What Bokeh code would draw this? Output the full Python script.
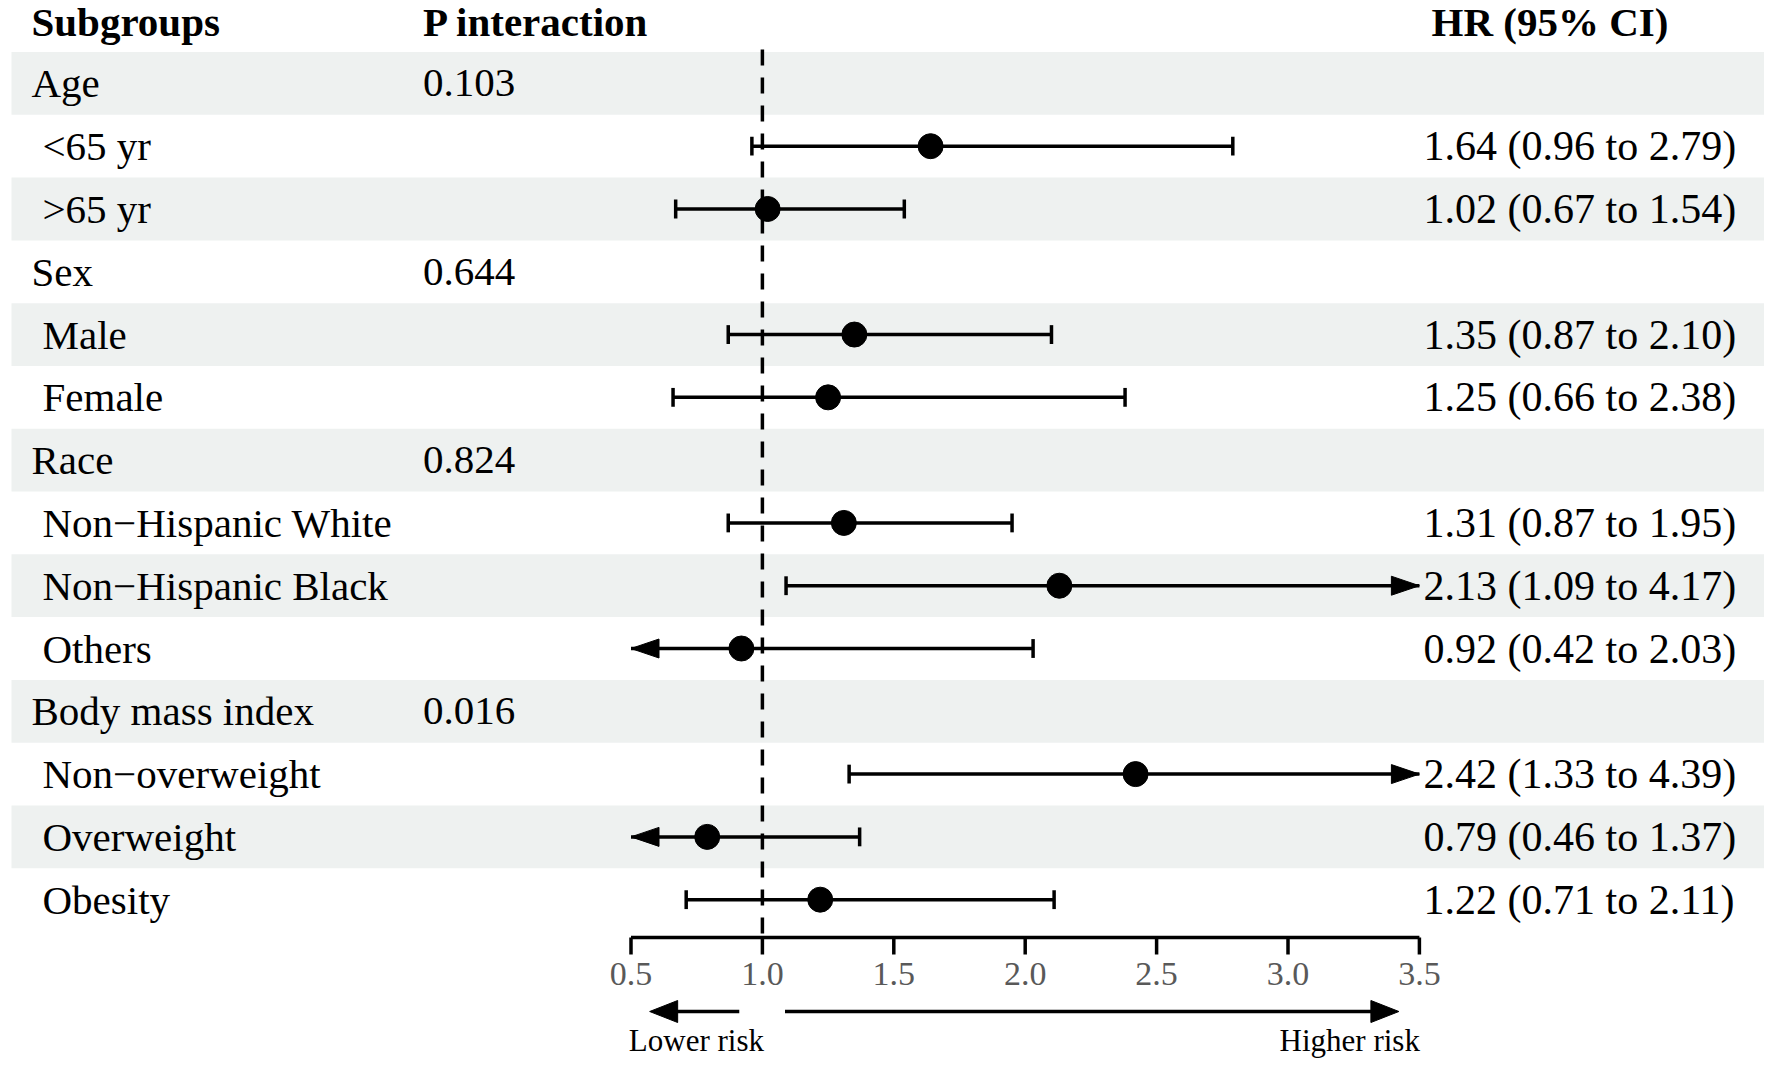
from bokeh.plotting import figure
from bokeh.models import Range1d
from bokeh.core.properties import value
from bokeh.embed import file_html
from bokeh.resources import INLINE

# ---------------- data ----------------
row_labels = ["Age", "<65 yr", ">65 yr", "Sex", "Male", "Female", "Race",
              "Non\u2212Hispanic White", "Non\u2212Hispanic Black", "Others",
              "Body mass index", "Non\u2212overweight", "Overweight", "Obesity"]
is_group = [True, False, False, True, False, False, True, False, False, False,
            True, False, False, False]
p_interaction = ["0.103", "", "", "0.644", "", "", "0.824", "", "", "",
                 "0.016", "", "", ""]
hr_est = [1.64, 1.02, 1.35, 1.25, 1.31, 2.13, 0.92, 2.42, 0.79, 1.22]
hr_low = [0.96, 0.67, 0.87, 0.66, 0.87, 1.09, 0.42, 1.33, 0.46, 0.71]
hr_up = [2.79, 1.54, 2.10, 2.38, 1.95, 4.17, 2.03, 4.39, 1.37, 2.11]
ticks = [0.5, 1.0, 1.5, 2.0, 2.5, 3.0, 3.5]
tick_labels = ["0.5", "1.0", "1.5", "2.0", "2.5", "3.0", "3.5"]
headers = ["Subgroups", "P interaction", "HR (95% CI)"]
risk_labels = ["Lower risk", "Higher risk"]
ref_line = 1.0
x_lo, x_hi = 0.5, 3.5

# ---------------- layout ----------------
W, H = 1764, 1064
SCALE = 262.8          # px per HR unit
PX05 = 630.5           # figure x of HR 0.5
ROW0 = 82.9            # figure y of first row centre
ROWH = 62.79           # row height px


def hx(px):
    return x_lo + (px - PX05) / SCALE


def ry(py):
    return (py - ROW0) / ROWH


FONT = value("Liberation Serif")
p = figure(width=W, height=H, output_backend="svg", toolbar_location=None,
           x_range=Range1d(hx(0), hx(W)),
           y_range=Range1d(ry(H), ry(0)),
           x_axis_location=None, y_axis_location=None, min_border=0)
p.grid.visible = False
p.outline_line_color = None
p.background_fill_color = "white"
p.border_fill_color = "white"

n = len(row_labels)
rows = list(range(n))
sub_rows = [i for i in rows if not is_group[i]]

# bands
band_rows = [i for i in rows if i % 2 == 0]
p.quad(left=[hx(11)] * len(band_rows), right=[hx(1780)] * len(band_rows),
       top=[i - 0.5 for i in band_rows], bottom=[i + 0.5 for i in band_rows],
       fill_color="#eef1f0", line_color=None)

# header
hy = ry(21)
p.text(x=[hx(31), hx(422.5), hx(1431)], y=[hy] * 3, text=headers,
       text_font=FONT, text_font_style="bold", text_font_size="41px",
       text_baseline="middle", text_align="left", text_color="black")

# labels
lab_x = [hx(31) if g else hx(42) for g in is_group]
p.text(x=lab_x, y=rows, text=row_labels, text_font=FONT, text_font_size="41px",
       text_baseline="middle", text_align="left", text_color="black")
p.text(x=[hx(422.5)] * n, y=rows, text=p_interaction, text_font=FONT,
       text_font_size="41px", text_baseline="middle", text_align="left",
       text_color="black")
hr_txt = ["%.2f (%.2f to %.2f)" % (e, l, u) for e, l, u in zip(hr_est, hr_low, hr_up)]
p.text(x=[hx(1423)] * len(sub_rows), y=sub_rows, text=hr_txt, text_font=FONT,
       text_font_size="42px", text_baseline="middle", text_align="left",
       text_color="black")

# reference dashed line
axis_y = ry(937)
p.segment(x0=[ref_line], y0=[ry(49)], x1=[ref_line], y1=[axis_y],
          line_color="black", line_width=3.5, line_dash="16 12")

# CIs
seg_l = [max(l, x_lo) for l in hr_low]
seg_r = [min(u, x_hi) for u in hr_up]
p.segment(x0=seg_l, y0=sub_rows, x1=seg_r, y1=sub_rows, line_color="black",
          line_width=3.5)
cap = 0.15
cap_x = [l for l in hr_low if l >= x_lo] + [u for u in hr_up if u <= x_hi]
cap_y = [r for r, l in zip(sub_rows, hr_low) if l >= x_lo] + \
        [r for r, u in zip(sub_rows, hr_up) if u <= x_hi]
p.segment(x0=cap_x, y0=[y - cap for y in cap_y], x1=cap_x,
          y1=[y + cap for y in cap_y], line_color="black", line_width=3.5)
# arrowheads for clipped CIs
hl = 28 / SCALE
hw = 9.5 / ROWH
xs, ys = [], []
for r, l, u in zip(sub_rows, hr_low, hr_up):
    if u > x_hi:
        xs.append([x_hi, x_hi - hl, x_hi - hl])
        ys.append([r, r - hw, r + hw])
    if l < x_lo:
        xs.append([x_lo, x_lo + hl, x_lo + hl])
        ys.append([r, r - hw, r + hw])
p.patches(xs=xs, ys=ys, fill_color="black", line_color="black", line_width=1)

# points
p.scatter(x=hr_est, y=sub_rows, size=25, marker="circle", fill_color="black",
          line_color="black")

# axis
p.segment(x0=[x_lo], y0=[axis_y], x1=[x_hi], y1=[axis_y], line_color="black",
          line_width=3.5)
tick_len = 17 / ROWH
p.segment(x0=ticks, y0=[axis_y] * len(ticks), x1=ticks,
          y1=[axis_y + tick_len] * len(ticks), line_color="black", line_width=3.5)
p.text(x=ticks, y=[ry(973)] * len(ticks), text=tick_labels, text_font=FONT,
       text_font_size="34px", text_baseline="middle", text_align="center",
       text_color="#595959")

# lower / higher risk arrows
ay = ry(1011)
low_tip, low_tail = 0.571, 0.912
high_tail, high_tip = 1.086, 3.422
p.segment(x0=[low_tail, high_tail], y0=[ay, ay],
          x1=[low_tip + 8 / SCALE, high_tip - 8 / SCALE], y1=[ay, ay],
          line_color="black", line_width=3.5)
ahw = 11 / ROWH
p.patches(xs=[[low_tip, low_tip + hl, low_tip + hl],
              [high_tip, high_tip - hl, high_tip - hl]],
          ys=[[ay, ay - ahw, ay + ahw], [ay, ay - ahw, ay + ahw]],
          fill_color="black", line_color="black", line_width=1)
p.text(x=[0.749, 3.235], y=[ry(1040)] * 2, text=risk_labels,
       text_font=FONT, text_font_size="31px", text_baseline="middle",
       text_align="center", text_color="black")

open("out.html", "w").write(file_html(p, INLINE))
